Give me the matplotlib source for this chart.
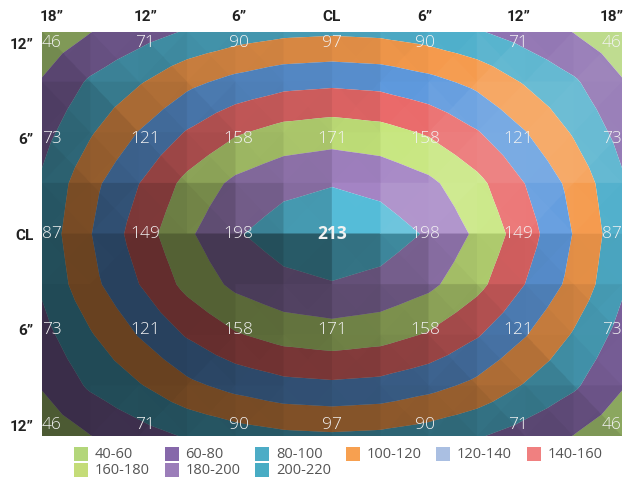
import numpy as np
import matplotlib
matplotlib.use('Agg')
import matplotlib.pyplot as plt
import matplotlib.tri as mtri
from matplotlib.patches import Rectangle

# ---------------- data ----------------
col_labels = ['18”', '12”', '6”', 'CL', '6”', '12”', '18”']
row_labels = ['12”', '6”', 'CL', '6”', '12”']
row_12_top = [46, 71, 90, 97, 90, 71, 46]
row_6_top = [73, 121, 158, 171, 158, 121, 73]
row_cl = [87, 149, 198, 213, 198, 149, 87]
row_6_bot = [73, 121, 158, 171, 158, 121, 73]
row_12_bot = [46, 71, 90, 97, 90, 71, 46]
band_levels = [40, 60, 80, 100, 120, 140, 160, 180, 200, 220]
band_labels = ['40-60', '60-80', '80-100', '100-120', '120-140', '140-160',
               '160-180', '180-200', '200-220']
fill_colors = ['#b3d67a', '#8a6cae', '#50b0cc', '#f59a4c', '#5f9ade', '#ea6a6a',
               '#c6e67c', '#a484c4', '#55bcd8']
legend_colors = ['#b3d67a', '#8668aa', '#4dacc6', '#f7a050', '#aabfe2', '#f08080',
                 '#c4dc78', '#9b7db9', '#48acc4']

Z = np.array([row_12_top, row_6_top, row_cl, row_6_bot, row_12_bot], float)
ny, nx = Z.shape

fig = plt.figure(figsize=(6.23, 4.79), dpi=100)
ax = fig.add_axes([42 / 623, 43 / 479, 580 / 623, 404 / 479])

# base triangulation (symmetric diagonals)
gx, gy = np.meshgrid(np.arange(nx), np.arange(ny))
tris = []
for j in range(ny - 1):
    for i in range(nx - 1):
        a = j * nx + i; b = a + 1; c = a + nx; d = c + 1
        if (i < (nx - 1) / 2) == (j < (ny - 1) / 2):
            tris += [[a, b, d], [a, d, c]]
        else:
            tris += [[a, b, c], [b, d, c]]
base = mtri.Triangulation(gx.ravel().astype(float), gy.ravel().astype(float), tris)
cubic = mtri.CubicTriInterpolator(base, Z.ravel(), kind='geom')
lin = mtri.LinearTriInterpolator(base, Z.ravel())

def ev(px, py):
    v = cubic(px, py)
    m = np.ma.getmaskarray(v)
    out = np.ma.filled(v, 0.0).astype(float)
    if m.any():
        l = lin(px, py)
        out[m] = np.ma.filled(l, np.nan)[m]
    return out

# half-grid mesh with X-split sub-cells
hx = np.linspace(0, nx - 1, 2 * (nx - 1) + 1)
hy = np.linspace(0, ny - 1, 2 * (ny - 1) + 1)
HX, HY = np.meshgrid(hx, hy)
HZ = ev(HX.ravel(), HY.ravel())
for j in range(ny):
    for i in range(nx):
        HZ[(2 * j) * len(hx) + 2 * i] = Z[j, i]
HZg = HZ.reshape(HX.shape)
cx = (hx[:-1] + hx[1:]) / 2
cy = (hy[:-1] + hy[1:]) / 2
CX, CY = np.meshgrid(cx, cy)
CZ = ((HZg[:-1, :-1] + HZg[:-1, 1:] + HZg[1:, :-1] + HZg[1:, 1:]) / 4).ravel()

px = np.concatenate([HX.ravel(), CX.ravel()])
py = np.concatenate([HY.ravel(), CY.ravel()])
pz = np.concatenate([HZ, CZ])
nh = HX.size
W = len(hx)
ftris = []
for j in range(len(hy) - 1):
    for i in range(len(hx) - 1):
        tl = j * W + i; tr = tl + 1; bl = tl + W; br = bl + 1
        c = nh + j * (len(hx) - 1) + i
        ftris += [[tl, tr, c], [tr, br, c], [br, bl, c], [bl, tl, c]]
ftris = np.array(ftris)
ftri = mtri.Triangulation(px, py, ftris)

ax.tricontourf(ftri, pz, levels=band_levels, colors=fill_colors, antialiased=True)

# lighting overlay (light from the right / top), per-facet
s = 1 / 6.0
P = np.stack([px, -py, pz * s], axis=1)
v1 = P[ftris[:, 1]] - P[ftris[:, 0]]
v2 = P[ftris[:, 2]] - P[ftris[:, 0]]
n = np.cross(v1, v2)
n[n[:, 2] < 0] *= -1
n /= np.linalg.norm(n, axis=1)[:, None]
ux, uy = n[:, 0], n[:, 1]
f = 0.71 + 0.25 * ux + 0.18 * uy + 0.27 * np.clip(ux + uy - 1, 0, None)
f = np.clip(f, 0.42, 1.2)
cols = np.zeros((len(f), 4))
dark = f < 1
cols[dark, 3] = 1 - f[dark]
cols[~dark, :3] = 1.0
cols[~dark, 3] = np.clip((f[~dark] - 1) * 1.4, 0, 0.35)

# rasterise facet shading into an image overlay (no seams)
RW, RH = 1160, 808
ix = (np.arange(RW) + 0.5) / RW * (nx - 1)
iy = (np.arange(RH) + 0.5) / RH * (ny - 1)
IX, IY = np.meshgrid(ix, iy)
finder = ftri.get_trifinder()
tid = finder(IX, IY)
tid = np.where(tid < 0, 0, tid)
img = cols[tid]
ax.imshow(img, extent=(0, nx - 1, ny - 1, 0), origin='upper', aspect='auto',
          interpolation='antialiased', zorder=2)

ax.set_xlim(0, nx - 1)
ax.set_ylim(ny - 1, 0)
for sp in ax.spines.values():
    sp.set_visible(False)

lab_x = [0.103 + 0.965 * i for i in range(nx)]
lab_y = [0.109 + 0.946 * j for j in range(ny)]
tick_font = dict(family=['Liberation Sans Narrow', 'Roboto', 'DejaVu Sans'],
                 weight='bold', size=11)
ax.xaxis.tick_top()
ax.set_xticks(lab_x)
ax.set_xticklabels(col_labels, fontdict=tick_font, color='#222222')
ax.set_yticks(lab_y)
ax.set_yticklabels(row_labels, fontdict=tick_font, color='#222222')
ax.tick_params(axis='x', length=0, pad=6)
ax.tick_params(axis='y', length=0, pad=6)

for j in range(ny):
    for i in range(nx):
        v = int(Z[j, i])
        bold = (j == 2 and i == 3)
        ax.text(lab_x[i], lab_y[j], str(v), ha='center', va='center',
                color='#f2f2f2', fontsize=12.5,
                family=['Open Sans', 'DejaVu Sans'],
                weight='bold' if bold else 'light', zorder=5)

# legend (manual, two rows)
W_, H_ = 623.0, 479.0
x0, pitch = 74, 90.5
rows_y = [454, 470]
for k, (lab, colr) in enumerate(zip(band_labels, legend_colors)):
    r, c = divmod(k, 6)
    xs_ = x0 + c * pitch
    yc = rows_y[r]
    fig.add_artist(Rectangle((xs_ / W_, 1 - (yc + 7) / H_), 14 / W_, 14 / H_,
                             transform=fig.transFigure, facecolor=colr,
                             edgecolor='none'))
    fig.text((xs_ + 21) / W_, 1 - yc / H_, lab, ha='left', va='center',
             fontsize=10.5, color='#555555', family=['Open Sans', 'DejaVu Sans'])

fig.savefig('out.png', dpi=100)
